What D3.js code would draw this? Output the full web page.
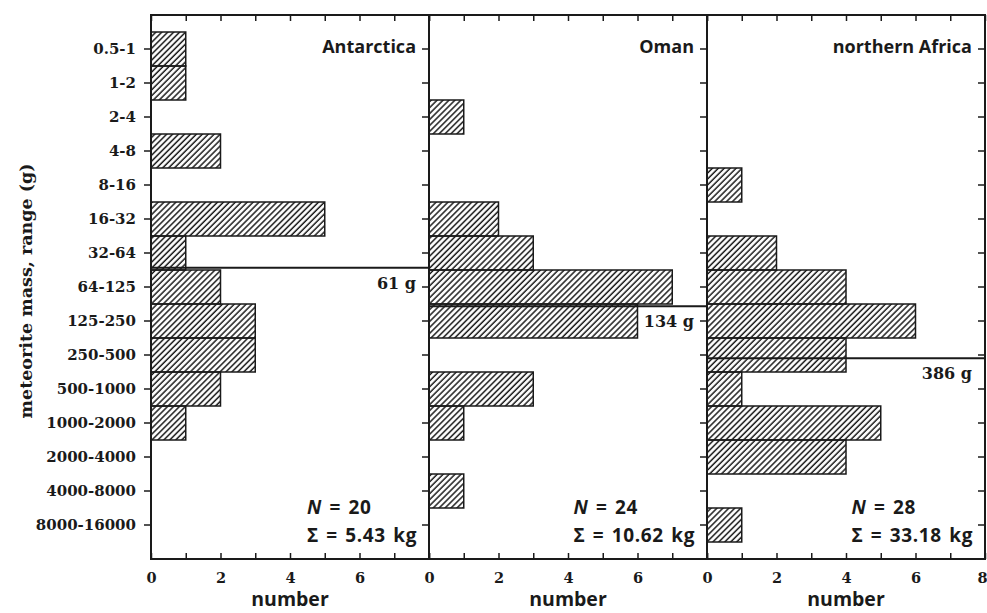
<!DOCTYPE html>
<html lang="en">
<head>
  <meta charset="UTF-8">
  <title>Meteorite masses</title>
  <script src="https://cdnjs.cloudflare.com/ajax/libs/d3/7.8.5/d3.min.js"></script>
  <style>
    body { margin: 0; background: #fff; }
    .serif { font-family: "DejaVu Serif", serif; font-weight: bold; fill: #1a1a1a; }
    .sans { font-family: "Open Sans", Lato, sans-serif; font-weight: bold; fill: #1a1a1a; }
  </style>
</head>
<body>
<div id="chart"></div>
<script>
// mass classes (g)
var massRanges = ["0.5-1", "1-2", "2-4", "4-8", "8-16", "16-32", "32-64", "64-125",
  "125-250", "250-500", "500-1000", "1000-2000", "2000-4000", "4000-8000", "8000-16000"];

var regions = ["Antarctica", "Oman", "northern Africa"];

// number of meteorites per mass class
var antarcticaCounts = [1, 1, 0, 2, 0, 5, 1, 2, 3, 3, 2, 1, 0, 0, 0];
var omanCounts       = [0, 0, 1, 0, 0, 2, 3, 7, 6, 0, 3, 1, 0, 1, 0];
var africaCounts     = [0, 0, 0, 0, 1, 0, 2, 4, 6, 4, 1, 5, 4, 0, 1];

var medianMass = [61, 134, 386];          // g
var sampleSize = [20, 24, 28];
var totalMass  = ["5.43", "10.62", "33.18"]; // kg

var xTicks = [0, 1, 2, 3, 4, 5, 6, 7, 8];

var svgWidth = 987, svgHeight = 613;
var margin = { top: 15, left: 151 };
var panelW = 278, plotH = 544;
var band = plotH / 16;

var svg = d3.select("#chart").append("svg")
  .attr("width", svgWidth)
  .attr("height", svgHeight);

// diagonal hatching
svg.append("defs").append("pattern")
  .attr("id", "hatch")
  .attr("patternUnits", "userSpaceOnUse")
  .attr("width", 4.2)
  .attr("height", 10)
  .attr("patternTransform", "rotate(45)")
  .append("line")
  .attr("x1", 1).attr("y1", 0)
  .attr("x2", 1).attr("y2", 10)
  .attr("stroke", "#1a1a1a")
  .attr("stroke-width", 1.5);

var y = d3.scaleBand()
  .domain(massRanges)
  .range([margin.top + band / 2, margin.top + plotH - band / 2])
  .padding(0);

// continuous mass scale matching the classes, for the medians
var yMass = d3.scaleLog().base(2)
  .domain([0.5, 16384])
  .range([margin.top + band / 2, margin.top + plotH - band / 2]);

var x = d3.scaleLinear().domain([0, 8]).range([0, panelW]);

var allCounts = [antarcticaCounts, omanCounts, africaCounts];

regions.forEach(function(name, i) {
  var g = svg.append("g")
    .attr("transform", `translate(${margin.left + i * panelW}, 0)`);

  // bars
  g.selectAll("rect.bar")
    .data(massRanges.map((m, k) => ({ range: m, n: allCounts[i][k] })).filter(d => d.n > 0))
    .enter()
    .append("rect")
    .attr("class", "bar")
    .attr("x", x(0))
    .attr("y", d => y(d.range))
    .attr("width", d => x(d.n))
    .attr("height", y.bandwidth())
    .attr("fill", "url(#hatch)")
    .attr("stroke", "#1a1a1a")
    .attr("stroke-width", 1.5);

  // median line
  var my = yMass(medianMass[i]);
  g.append("line")
    .attr("x1", 0).attr("x2", panelW)
    .attr("y1", my).attr("y2", my)
    .attr("stroke", "#1a1a1a")
    .attr("stroke-width", 2);

  g.append("text")
    .attr("class", "serif")
    .attr("x", panelW - 13)
    .attr("y", my + 21)
    .attr("text-anchor", "end")
    .style("font-size", "16px")
    .text(medianMass[i] + " g");

  // bottom axis
  var bottomAxis = d3.axisBottom(x)
    .tickValues(xTicks)
    .tickSize(-6)
    .tickPadding(14)
    .tickFormat(d => (d % 2 === 0 && (d < 8 || i === 2)) ? d : "");
  var bx = g.append("g")
    .attr("transform", `translate(0, ${margin.top + plotH})`)
    .call(bottomAxis);
  bx.select(".domain").remove();
  bx.selectAll("line").attr("stroke", "#1a1a1a").attr("stroke-width", 1.5);
  bx.selectAll("text").attr("class", "serif").style("font-size", "14.5px");
  bx.selectAll("text").filter(d => d === 8).attr("dx", -3);

  // top axis
  var tx = g.append("g")
    .attr("transform", `translate(0, ${margin.top})`)
    .call(d3.axisTop(x).tickValues(xTicks).tickSize(-6).tickFormat(""));
  tx.select(".domain").remove();
  tx.selectAll("line").attr("stroke", "#1a1a1a").attr("stroke-width", 1.5);

  // left axis (ticks point outward)
  var leftAxis = d3.axisLeft(y).tickSize(7).tickPadding(8)
    .tickFormat(i === 0 ? (d => d) : "");
  var lx = g.append("g").call(leftAxis);
  lx.select(".domain").remove();
  lx.selectAll("line").attr("stroke", "#1a1a1a").attr("stroke-width", 1.5);
  lx.selectAll("text").attr("class", "serif").style("font-size", "15px");

  if (i === regions.length - 1) {
    var rx = g.append("g")
      .attr("transform", `translate(${panelW}, 0)`)
      .call(d3.axisRight(y).tickSize(-7).tickFormat(""));
    rx.select(".domain").remove();
    rx.selectAll("line").attr("stroke", "#1a1a1a").attr("stroke-width", 1.5);
  }

  // frame
  g.append("rect")
    .attr("x", 0).attr("y", margin.top)
    .attr("width", panelW).attr("height", plotH)
    .attr("fill", "none")
    .attr("stroke", "#1a1a1a")
    .attr("stroke-width", 2);

  // region name
  g.append("text")
    .attr("class", "sans")
    .attr("x", panelW - 13)
    .attr("y", 53)
    .attr("text-anchor", "end")
    .style("font-size", "18px")
    .text(name);

  // N and total mass
  var sumText = g.append("text")
    .attr("class", "sans")
    .attr("x", panelW - 12)
    .attr("y", 542)
    .attr("text-anchor", "end")
    .style("font-size", "19px")
    .style("letter-spacing", "0.6px")
    .style("word-spacing", "2px")
    .text("\u03A3 = " + totalMass[i] + " kg");
  var x0 = sumText.node().getBBox().x;

  var nText = g.append("text")
    .attr("class", "sans")
    .attr("x", x0)
    .attr("y", 514)
    .style("font-size", "19px")
    .style("letter-spacing", "0.6px")
    .style("word-spacing", "2px");
  nText.append("tspan").style("font-style", "italic").text("N");
  nText.append("tspan").text(" = " + sampleSize[i]);

  // x label
  g.append("text")
    .attr("class", "sans")
    .attr("x", panelW / 2)
    .attr("y", 606)
    .attr("text-anchor", "middle")
    .style("font-size", "19.5px")
    .text("number");
});

// y label
svg.append("text")
  .attr("class", "serif")
  .attr("transform", "translate(32, 291) rotate(-90)")
  .attr("text-anchor", "middle")
  .style("font-size", "17.5px")
  .text("meteorite mass, range  (g)");
</script>
</body>
</html>
